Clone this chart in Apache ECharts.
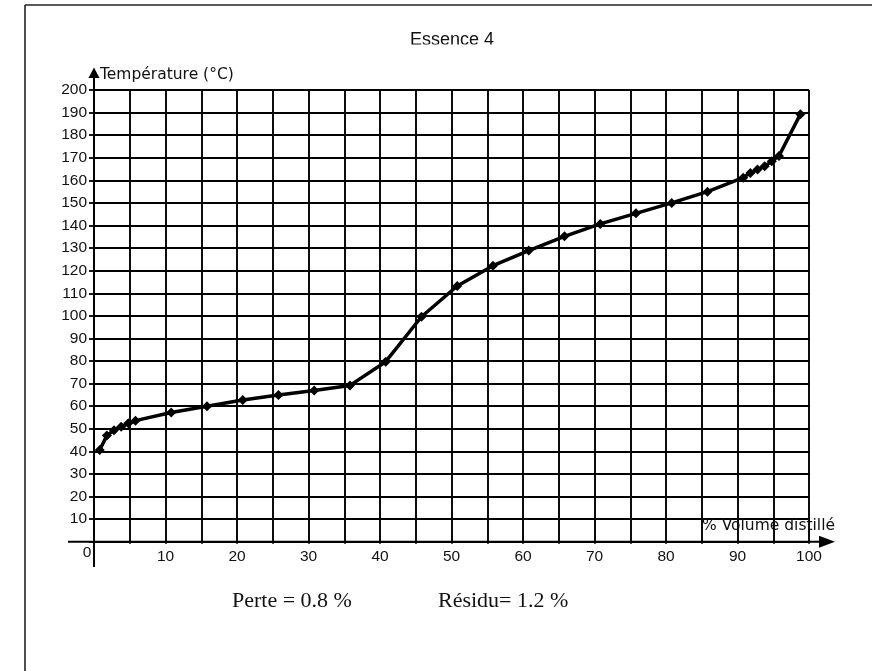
<!DOCTYPE html>
<html>
<head>
<meta charset="utf-8">
<title>Essence 4</title>
<script src="https://cdn.jsdelivr.net/npm/echarts@6/dist/echarts.min.js"></script>
<style>
  html, body { margin: 0; padding: 0; background: #fff; }
  #chart { width: 872px; height: 671px; }
</style>
</head>
<body>
<div id="chart"></div>
<script>
// Distillation curve: % volume distilled vs temperature (°C)
const volumePct = [0.8, 1.8, 2.8, 3.8, 4.8, 5.8, 10.8, 15.8, 20.8, 25.8, 30.8, 35.8,
  40.8, 45.8, 50.8, 55.8, 60.8, 65.8, 70.8, 75.8, 80.8, 85.8,
  90.8, 91.8, 92.8, 93.8, 94.8, 95.8, 98.8];
const temperature = [40.6, 47, 49.4, 50.9, 52.4, 53.6, 57.2, 60, 62.7, 65, 66.9, 69.2,
  79.7, 99.6, 113.2, 122.2, 128.9, 135.2, 140.7, 145.4, 150, 155,
  161.2, 163.3, 164.8, 166.2, 168.5, 170.8, 189.3];

const titleText = 'Essence 4';
const yName = 'Température (°C)';
const xName = '% Volume distillé';
const notes = ['Perte = 0.8 %', 'Résidu= 1.2 %'];

const sans = '"Liberation Sans", Arial, sans-serif';
const wide = '"DejaVu Sans", "Liberation Sans", sans-serif';
const serif = '"Liberation Serif", "Times New Roman", serif';
const ink = '#000';

const chart = echarts.init(document.getElementById('chart'), null, { renderer: 'canvas' });

const points = volumePct.map((v, i) => [v, temperature[i]]);

chart.setOption({
  animation: false,
  backgroundColor: '#fff',
  grid: { left: 94, right: 63, top: 90, bottom: 129.3, containLabel: false },
  xAxis: {
    type: 'value', min: 0, max: 100, interval: 5,
    axisLine: { show: true, onZero: false, lineStyle: { color: ink, width: 2 } },
    axisTick: { show: true, inside: false, length: 2, lineStyle: { color: ink, width: 1.8 } },
    axisLabel: {
      margin: 7, color: '#111', fontFamily: sans, fontSize: 15.5,
      formatter: v => (v > 0 && v % 10 === 0) ? String(v) : ''
    },
    splitLine: { show: true, lineStyle: { color: '#000', width: 1.9 } }
  },
  yAxis: {
    type: 'value', min: 0, max: 200, interval: 10,
    axisLine: { show: true, onZero: false, lineStyle: { color: ink, width: 2 } },
    axisTick: { show: true, inside: false, length: 5, lineStyle: { color: ink, width: 1.8 } },
    axisLabel: {
      margin: 7, color: '#111', fontFamily: sans, fontSize: 15.5,
      formatter: v => v === 0 ? '' : String(v)
    },
    splitLine: { show: true, lineStyle: { color: '#000', width: 1.9 } }
  },
  series: [{
    type: 'line',
    data: points,
    symbol: 'diamond',
    symbolSize: 10,
    showSymbol: true,
    itemStyle: { color: ink },
    lineStyle: { color: ink, width: 3.5 },
    z: 5
  }]
});

// Axis decorations: extended axis lines, arrow heads, axis names and the origin label
const origin = chart.convertToPixel({ gridIndex: 0 }, [0, 0]);

const graphics = [
  // page frame
  { type: 'line', shape: { x1: 25, y1: 5, x2: 872, y2: 5 }, style: { stroke: '#222', lineWidth: 1.6 } },
  { type: 'line', shape: { x1: 25, y1: 5, x2: 25, y2: 671 }, style: { stroke: '#222', lineWidth: 1.6 } },
  // title (bottom edge trimmed)
  { type: 'text', x: 452, y: 40.5, style: { text: titleText, font: '18px ' + sans, fill: '#111', align: 'center', verticalAlign: 'middle' }, z: 10 },
  { type: 'rect', shape: { x: 400, y: 44.5, width: 110, height: 8 }, style: { fill: '#fff' }, z: 11 },
  // x axis extension and arrow
  { type: 'line', shape: { x1: 68, y1: origin[1], x2: 821, y2: origin[1] }, style: { stroke: ink, lineWidth: 2 }, z: 6 },
  { type: 'polygon', shape: { points: [[819, origin[1] - 6], [835, origin[1]], [819, origin[1] + 6]] }, style: { fill: ink }, z: 6 },
  // y axis extension and arrow
  { type: 'line', shape: { x1: origin[0], y1: 567, x2: origin[0], y2: 77 }, style: { stroke: ink, lineWidth: 2 }, z: 6 },
  { type: 'polygon', shape: { points: [[origin[0] - 5.5, 78], [origin[0], 67.5], [origin[0] + 5.5, 78]] }, style: { fill: ink }, z: 6 },
  // axis names
  { type: 'text', x: origin[0] + 6, y: 75, style: { text: yName, font: '15.5px ' + wide, fill: '#111', align: 'left', verticalAlign: 'middle' }, z: 10 },
  { type: 'text', x: 835, y: 526, style: { text: xName, font: '15.5px ' + wide, fill: '#111', align: 'right', verticalAlign: 'middle' }, z: 10 },
  // origin label
  { type: 'text', x: origin[0] - 7, y: origin[1] + 11, style: { text: '0', font: '15.5px ' + sans, fill: '#111', align: 'center', verticalAlign: 'middle' }, z: 10 },
  // loss / residue notes
  { type: 'text', x: 232, y: 601, style: { text: notes[0], font: '22px ' + serif, fill: '#111', align: 'left', verticalAlign: 'middle' }, z: 10 },
  { type: 'text', x: 438, y: 601, style: { text: notes[1], font: '22px ' + serif, fill: '#111', align: 'left', verticalAlign: 'middle' }, z: 10 }
];

chart.setOption({ graphic: graphics });
</script>
</body>
</html>
